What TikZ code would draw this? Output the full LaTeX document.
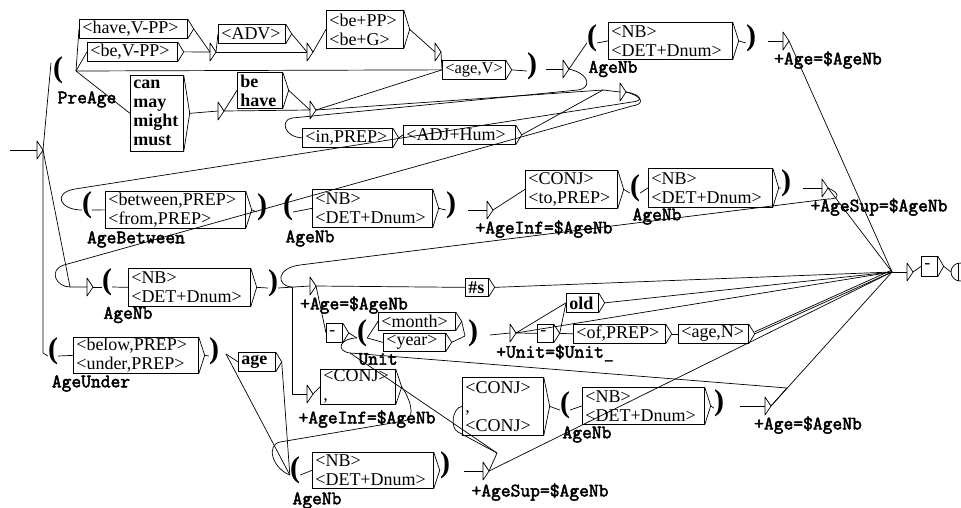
\documentclass[tikz,border=0pt]{standalone}
\usepackage{fontspec}
\newfontfamily\boxfont{Liberation Serif}
\newfontfamily\lblfont[FakeBold=2.5]{Latin Modern Mono}
\newfontfamily\parfont{Liberation Serif}
\newcommand\gbox[6]{%
  \pgfmathsetmacro\gw{#4-#2}\pgfmathsetmacro\gh{#5-#3}\pgfmathsetmacro\gtw{#4-#2-6}%
  \node[gboxst, minimum width=\gw pt, minimum height=\gh pt, text width=\gtw pt] (#1) at (#2,#3) {#6};
  \draw[ln] (#1.north east) -- ([xshift=6pt]#1.east) -- (#1.south east);
  \coordinate (#1o) at ([xshift=6pt]#1.east);}
\newcommand\tri[3]{%
  \draw[ln] (#2,#3-9) -- (#2+6,#3) -- (#2,#3+9) -- cycle;
  \coordinate (#1) at (#2,#3);
  \coordinate (#1o) at (#2+6,#3);}
\begin{document}
\begin{tikzpicture}[x=1pt,y=-1pt,
  ln/.style={line width=0.7pt, line join=round},
  gboxst/.style={draw, line width=0.7pt, inner xsep=3pt, inner ysep=0pt, align=left, anchor=north west, font=\boxfont\fontsize{18}{19}\selectfont},
  lbl/.style={font=\lblfont\fontsize{19}{19}\selectfont, inner sep=0pt},
  par/.style={font=\parfont\bfseries\fontsize{30}{30}\selectfont, inner sep=0pt, text height=0.5em, text depth=0pt}]
\useasboundingbox (0,0) rectangle (961,507);
\fill[white] (0,0) rectangle (961,507);
% boxes
\gbox{have}{79}{19}{187}{38}{<have,V-PP>}
\gbox{bevpp}{87}{42}{177}{61}{<be,V-PP>}
\gbox{can}{130}{75}{183}{151}{\textbf{can}\\\textbf{may}\\\textbf{might}\\\textbf{must}}
\gbox{adv}{218}{24}{285}{43}{<ADV>}
\gbox{behave}{237}{72}{282}{108}{\textbf{be}\\\textbf{have}}
\gbox{bepp}{326}{10}{403}{48}{<be+PP>\\<be+G>}
\gbox{agev}{442}{60}{505}{79}{\fontsize{16.5}{19}\selectfont <age,V>}
\gbox{inprep}{302}{128}{392}{147}{<in,PREP>}
\gbox{adjhum}{403}{125}{515}{144}{<ADJ+Hum>}
\gbox{nba}{608}{22}{732}{59}{<NB>\\<DET+Dnum>}
\gbox{between}{105}{191}{245}{228}{<between,PREP>\\<from,PREP>}
\gbox{nbb}{312}{189}{432}{227}{<NB>\\<DET+Dnum>}
\gbox{conjto}{525}{170}{617}{208}{<CONJ>\\<to,PREP>}
\gbox{nbc}{648}{168}{772}{207}{<NB>\\<DET+Dnum>}
\gbox{nbd}{128}{268}{250}{306}{<NB>\\<DET+Dnum>}
\gbox{hs}{465}{278}{488}{296}{\textbf{\#s}}
\gbox{dasha}{326}{323}{342}{342}{-}
\gbox{month}{378}{312}{455}{330}{<month>}
\gbox{year}{383}{333}{445}{351}{<year>}
\gbox{old}{566}{293}{598}{312}{\textbf{old}}
\gbox{dashb}{537}{324}{553}{342}{-}
\gbox{ofprep}{573}{324}{665}{343}{<of,PREP>}
\gbox{agen}{678}{324}{748}{343}{<age,N>}
\gbox{below}{73}{337}{198}{373}{<below,PREP>\\<under,PREP>}
\gbox{age}{238}{352}{275}{371}{\textbf{age}}
\gbox{conja}{320}{369}{395}{404}{<CONJ>\\,}
\gbox{conjb}{462}{377}{543}{435}{<CONJ>\\,\\<CONJ>}
\gbox{nbe}{582}{387}{704}{424}{<NB>\\<DET+Dnum>}
\gbox{nbf}{312}{452}{433}{488}{<NB>\\<DET+Dnum>}
\gbox{dashf}{921}{256}{937}{276}{-}
% parentheses
\node[par] (pA) at (58,75) {(};
\node[par] (pAc) at (532,71) {)};
\node[par] (p1) at (592,43) {(};
\node[par] (p1c) at (751,43) {)};
\node[par] (pB) at (87,210) {(};
\node[par] (pBc) at (262,212) {)};
\node[par] (p2) at (288,212) {(};
\node[par] (p2c) at (451,210) {)};
\node[par] (p3) at (635,193) {(};
\node[par] (p3c) at (786,188) {)};
\node[par] (p4) at (107,287) {(};
\node[par] (p4c) at (273,288) {)};
\node[par] (pU) at (362,338) {(};
\node[par] (pUc) at (473,338) {)};
\node[par] (pAU) at (53,356) {(};
\node[par] (pAUc) at (214,356) {)};
\node[par] (p5) at (565,410) {(};
\node[par] (p5c) at (719,408) {)};
\node[par] (p6) at (295,475) {(};
\node[par] (p6c) at (445,470) {)};
% labels
\node[lbl] (lPre) at (87,99.5) {PreAge};
\node[lbl] (lNa) at (613,69) {AgeNb};
\node[lbl] (lBet) at (136,239.5) {AgeBetween};
\node[lbl] (lNb) at (310,238.5) {AgeNb};
\node[lbl] (lNc) at (657,216.5) {AgeNb};
\node[lbl] (lNd) at (128,315) {AgeNb};
\node[lbl] (lUnit) at (378,359) {Unit};
\node[lbl] (lUnder) at (91,383.5) {AgeUnder};
\node[lbl] (lNe) at (587,434.5) {AgeNb};
\node[lbl] (lNf) at (317,500.5) {AgeNb};
\node[lbl] (oA) at (828,60) {+Age=\$AgeNb};
\node[lbl] (oB) at (544,229) {+AgeInf=\$AgeNb};
\node[lbl] (oC) at (879,207) {+AgeSup=\$AgeNb};
\node[lbl] (oD) at (354,305) {+Age=\$AgeNb};
\node[lbl] (oE) at (555,353) {+Unit=\$Unit\_};
\node[lbl] (oF) at (367,419) {+AgeInf=\$AgeNb};
\node[lbl] (oG) at (808,425) {+Age=\$AgeNb};
\node[lbl] (oH) at (540,492) {+AgeSup=\$AgeNb};
% triangles
\tri{Ti}{37}{150}
\tri{Ta}{210}{52}
\tri{Tb}{307}{52}
\tri{Tc}{435}{52}
\tri{Td}{218}{111}
\tri{Te}{310}{110}
\tri{Tf}{563}{69}
\tri{Tg}{620}{92}
\tri{Th}{783}{41}
\tri{Tj}{487}{210}
\tri{Tk}{822}{188}
\tri{Tl}{87}{287}
\tri{Tm}{310}{286}
\tri{Tn}{510}{333}
\tri{Tp}{307}{394}
\tri{Tq}{765}{406}
\tri{Tr}{483}{471}
\tri{Tz}{907}{272}
% coordinates
\coordinate (start) at (10,150);
\coordinate (J) at (892,272);
\coordinate (J1) at (603,90);
\coordinate (pAo) at (76,71);
\coordinate (pAin) at (51,63);
\coordinate (pAcx) at (546,69);
\coordinate (p1cx) at (768,41);
\coordinate (p2cx) at (468,210);
\coordinate (p3cx) at (803,188);
\coordinate (uj) at (465,336);
\coordinate (pUcx) at (490,335);
\coordinate (auo) at (226,354);
\coordinate (p5cx) at (740,406);
\coordinate (p6cx) at (464,471);
\coordinate (hq) at (787,388);
\coordinate (hr) at (497,453);
\coordinate (ua) at (350,353);
\coordinate (vj) at (292,287);
% initial
\draw[ln] (start) -- (Ti);
\draw[ln] (Tio) -- (pAin);
\draw[ln] (Tio) -- (43,353) -- (pAU.west);
\draw[ln] (Tio) -- (70,287) -- (Tl);
% PreAge
\draw[ln] (pAo) -- (have.west);
\draw[ln] (pAo) -- (bevpp.west);
\draw[ln] (pAo) -- (agev.west);
\draw[ln] (pAo) -- (can.west);
\draw[ln] (haveo) -- (Ta);
\draw[ln] (bevppo) -- (Ta);
\draw[ln] (Tao) -- (adv.west);
\draw[ln] (Tao) -- (Tb);
\draw[ln] (advo) -- (Tb);
\draw[ln] (Tbo) -- (bepp.west);
\draw[ln] (beppo) -- (Tc);
\draw[ln] (Tco) -- (agev.west);
\draw[ln] (cano) -- (Td);
\draw[ln] (Tdo) -- (behave.west);
\draw[ln] (Tdo) -- (Te);
\draw[ln] (behaveo) -- (Te);
\draw[ln] (Teo) -- (agev.west);
\draw[ln] (Teo) -- (J1) -- (Tg);
\draw[ln] (agevo) -- (pAc.west);
\draw[ln] (pAcx) -- (Tf);
\draw[ln] (Tfo) -- (p1.west);
\draw[ln] (Tfo) .. controls (590,74) and (592,88) .. (578,90) -- (292,118) .. controls (280,120) and (284,137) .. (inprep.west);
\draw[ln] (inprepo) -- (adjhum.west);
\draw[ln] (adjhumo) -- (J1);
\draw[ln] (Tgo) .. controls (640,94) and (645,101) .. (632,102) -- (75,189) .. controls (52,193) and (60,210) .. (pB.west);
\draw[ln] (Tgo) .. controls (642,96) and (646,104) .. (632,106) -- (64,265) .. controls (48,270) and (56,287) .. (70,287);
\draw[ln] (p1.east) -- (nba.west);
\draw[ln] (nbao) -- (p1c.west);
\draw[ln] (p1cx) -- (Th);
\draw[ln] (Tho) -- (J);
% AgeBetween row
\draw[ln] (pB.east) -- (between.west);
\draw[ln] (betweeno) -- (pBc.west);
\draw[ln] (p2.east) -- (nbb.west);
\draw[ln] (nbbo) -- (p2c.west);
\draw[ln] (p2cx) -- (Tj);
\draw[ln] (Tjo) -- (conjto.west);
\draw[ln] (conjtoo) -- (p3.west);
\draw[ln] (p3.east) -- (nbc.west);
\draw[ln] (nbco) -- (p3c.west);
\draw[ln] (p3cx) -- (Tk);
\draw[ln] (Tko) -- (J);
\draw[ln] (Tko) .. controls (838,192) and (842,199) .. (828,199) -- (300,265) .. controls (276,268) and (276,286) .. (vj);
% middle AgeNb row
\draw[ln] (Tlo) -- (p4.west);
\draw[ln] (p4.east) -- (nbd.west);
\draw[ln] (nbdo) -- (p4c.west);
\draw[ln] (p4c.east) -- (Tm);
\draw[ln] (vj) -- (292,394) -- (Tp);
\draw[ln] (Tmo) -- (hs.west);
\draw[ln] (hso) -- (J);
\draw[ln] (Tmo) -- (dasha.west);
\draw[ln] (dashao) -- (pU.west);
\draw[ln] (pU.east) -- (month.west);
\draw[ln] (pU.east) -- (year.west);
\draw[ln] (montho) -- (uj);
\draw[ln] (yearo) -- (uj);
\draw[ln] (pUcx) -- (Tn);
\draw[ln] (Tno) -- (old.west);
\draw[ln] (Tno) -- (dashb.west);
\draw[ln] (Tno) -- (J);
\draw[ln] (dashbo) -- (old.west);
\draw[ln] (dashbo) -- (ofprep.west);
\draw[ln] (oldo) -- (J);
\draw[ln] (ofprepo) -- (agen.west);
\draw[ln] (ageno) -- (J);
\draw[ln] ([yshift=2pt]ageno) -- ([yshift=2pt]J);
% AgeUnder row
\draw[ln] (pAU.east) -- (below.west);
\draw[ln] (belowo) -- (pAUc.west);
\draw[ln] (auo) -- (age.west);
\draw[ln] (auo) -- (p6.west);
\draw[ln] (ageo) -- (p6.west);
\draw[ln] (Tpo) -- (conja.west);
\draw[ln] (conjao) .. controls (408,395) and (418,418) .. (404,421) -- (280,442) .. controls (266,445) and (272,468) .. (p6.west);
\draw[ln] (conjbo) -- (p5.west);
\draw[ln] (p5.east) -- (nbe.west);
\draw[ln] (nbeo) -- (p5c.west);
\draw[ln] (p5cx) -- (Tq);
\draw[ln] (Tqo) -- (J);
\draw[ln] (Tqo) -- (hq) -- (ua) .. controls (335,351) and (340,338) .. (pU.west);
% bottom AgeNb
\draw[ln] (p6.east) -- (nbf.west);
\draw[ln] (nbfo) -- (p6c.west);
\draw[ln] (p6cx) -- (Tr);
\draw[ln] (Tro) -- (J);
\draw[ln] (Tro) -- (hr) -- (ua);
\draw[ln] (hr) -- (458,432) .. controls (450,428) and (452,408) .. (conjb.west);
% final
\draw[ln] (J) -- (Tz);
\draw[ln] (Tzo) -- (dashf.west);
\draw[ln] (dashfo) -- (951,272);
\draw[ln] (960,272) circle[radius=9];
\draw[ln] (958,263) -- (958,281);
\end{tikzpicture}
\end{document}
